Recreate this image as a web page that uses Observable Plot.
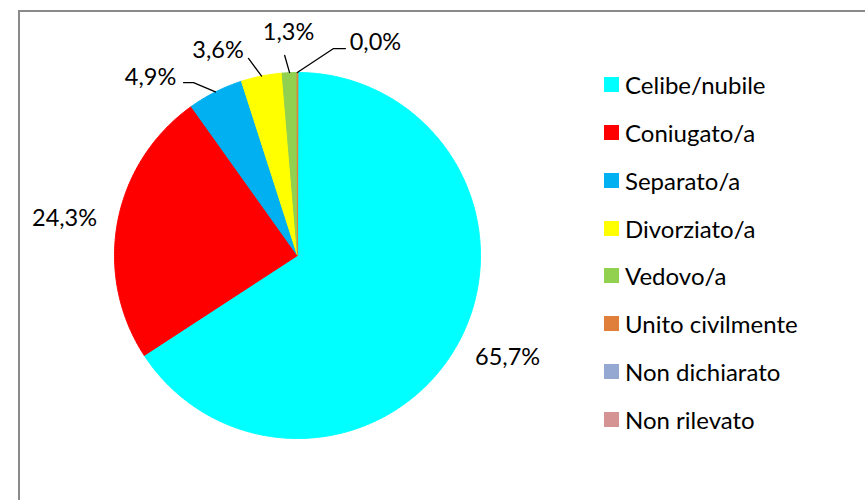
<!DOCTYPE html>
<html>
<head>
<meta charset="utf-8">
<script src="https://cdn.jsdelivr.net/npm/d3@7"></script>
<script src="https://cdn.jsdelivr.net/npm/@observablehq/plot@0.6"></script>
<style>
  html, body { margin: 0; padding: 0; background: #fff; }
  #wrap { position: relative; width: 865px; height: 500px; overflow: hidden; font-family: Lato, "Open Sans", sans-serif; }
  #frame { position: absolute; left: 18px; top: 10px; width: 1000px; height: 700px; border-left: 2px solid #8a8a8a; border-top: 2px solid #8a8a8a; box-sizing: border-box; }
  #chart { position: absolute; left: 0; top: 0; }
  #legend { position: absolute; left: 604px; top: 60.6px; }
  .row { height: 47.86px; display: flex; align-items: center; font-size: 24px; color: #000; white-space: nowrap; }
  .sw { width: 15px; height: 15px; margin-right: 6px; flex: none; }
</style>
</head>
<body>
<div id="wrap">
  <div id="frame"></div>
  <div id="chart"></div>
  <div id="legend"></div>
</div>
<script>
// ---- data ----
const categories = ["Celibe/nubile", "Coniugato/a", "Separato/a", "Divorziato/a", "Vedovo/a", "Unito civilmente", "Non dichiarato", "Non rilevato"];
const values = [65.7, 24.3, 4.9, 3.6, 1.3, 0.04, 0, 0];
const colors = ["#00FFFF", "#FF0000", "#00B0F0", "#FFFF00", "#92D050", "#E07F3A", "#94A8D2", "#D59393"];

// ---- layout (unit-circle coordinates, radius = 1) ----
const labelPos = [[1.148, -0.557], [-1.273, 0.202], [-0.803, 0.973], [-0.434, 1.120], [-0.049, 1.219], [0.426, 1.164], null, null];
const leaderBends = [null, null, [[-0.568, 0.945], [-0.623, 0.945]], [[-0.268, 1.077]], [[-0.07, 1.093]], [[0.197, 1.131], [0.262, 1.131]], null, null];

const arcs = d3.pie().sort(null).value(d => d)(values);

const slicePts = [];
arcs.forEach((a, i) => {
  if (values[i] <= 0) return;
  const cat = categories[i];
  const n = Math.max(2, Math.ceil((a.endAngle - a.startAngle) / (2 * Math.PI) * 720));
  slicePts.push({cat, x: 0, y: 0});
  for (let k = 0; k <= n; k++) {
    const t = a.startAngle + (a.endAngle - a.startAngle) * k / n;
    slicePts.push({cat, x: Math.sin(t), y: Math.cos(t)});
  }
});

const labels = [];
const leaders = [];
arcs.forEach((a, i) => {
  if (values[i] <= 0 || !labelPos[i]) return;
  labels.push({cat: categories[i], x: labelPos[i][0], y: labelPos[i][1], text: values[i].toFixed(1).replace(".", ",") + "%"});
  if (leaderBends[i]) {
    const m = (a.startAngle + a.endAngle) / 2;
    leaders.push({cat: categories[i], x: Math.sin(m), y: Math.cos(m)});
    leaderBends[i].forEach(p => leaders.push({cat: categories[i], x: p[0], y: p[1]}));
  }
});

const chart = Plot.plot({
  width: 865,
  height: 500,
  margin: 0,
  x: {domain: [-1, 1], range: [114, 480], axis: null},
  y: {domain: [-1, 1], range: [438, 72], axis: null},
  color: {domain: categories, range: colors},
  style: {background: "transparent", fontFamily: "Lato, 'Open Sans', sans-serif"},
  marks: [
    Plot.line(slicePts, {x: "x", y: "y", z: "cat", fill: "cat", stroke: "cat", strokeWidth: 1, curve: "linear-closed"}),
    Plot.line(leaders, {x: "x", y: "y", z: "cat", stroke: "#000", strokeWidth: 1.3}),
    Plot.text(labels, {x: "x", y: "y", text: "text", fill: "#000", fontSize: 23.5, textAnchor: "middle"})
  ]
});
document.getElementById("chart").appendChild(chart);

const legend = document.getElementById("legend");
categories.forEach((c, i) => {
  const row = document.createElement("div");
  row.className = "row";
  const sw = document.createElement("div");
  sw.className = "sw";
  sw.style.background = colors[i];
  const tx = document.createElement("span");
  tx.textContent = c;
  row.appendChild(sw);
  row.appendChild(tx);
  legend.appendChild(row);
});
</script>
</body>
</html>
